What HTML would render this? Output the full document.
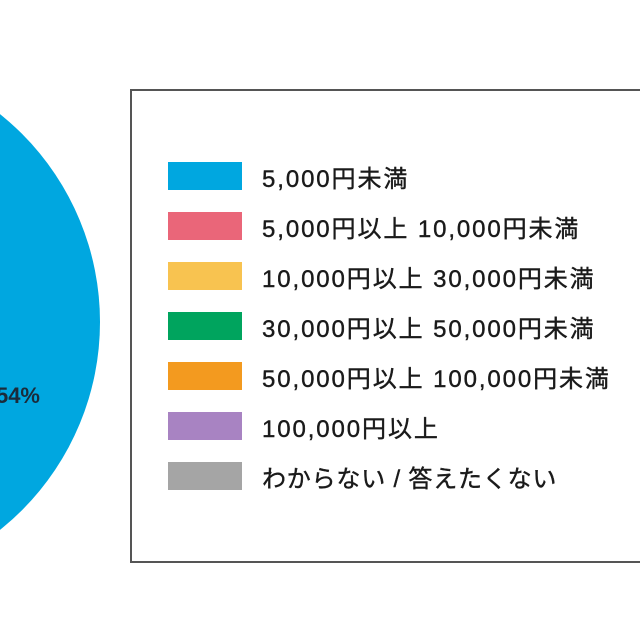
<!DOCTYPE html>
<html><head><meta charset="utf-8"><style>
body{margin:0;width:640px;height:640px;background:#fff;overflow:hidden;position:relative;font-family:"Liberation Sans","Noto Sans CJK JP",sans-serif}
.box{position:absolute;left:130px;top:89px;width:530px;height:470px;border:2px solid #555}
.row{position:absolute;left:168px;height:28px;display:flex;align-items:center}
.sw{width:74px;height:28px;margin-right:20px}
.t{font-size:24px;letter-spacing:1.9px;color:#1a1a1a;white-space:nowrap;-webkit-text-stroke:0.4px #1a1a1a}
.k{letter-spacing:0.8px}
</style></head><body>
<svg width="640" height="640" style="position:absolute;left:0;top:0">
<circle cx="-166" cy="322" r="266" fill="#00a7e0"/>
<text x="40" y="403" text-anchor="end" font-size="22" fill="#1b2b3a" font-weight="bold" font-family="Liberation Sans, sans-serif">54%</text>
</svg>
<div class="box"></div>
<div class="row" style="top:162px"><div class="sw" style="background:#00a7e0"></div><span class="t">5,000円未満</span></div>
<div class="row" style="top:212px"><div class="sw" style="background:#ea6679"></div><span class="t">5,000円以上 10,000円未満</span></div>
<div class="row" style="top:262px"><div class="sw" style="background:#f8c350"></div><span class="t">10,000円以上 30,000円未満</span></div>
<div class="row" style="top:312px"><div class="sw" style="background:#00a45e"></div><span class="t">30,000円以上 50,000円未満</span></div>
<div class="row" style="top:362px"><div class="sw" style="background:#f39a1f"></div><span class="t">50,000円以上 100,000円未満</span></div>
<div class="row" style="top:412px"><div class="sw" style="background:#a883c2"></div><span class="t">100,000円以上</span></div>
<div class="row" style="top:462px"><div class="sw" style="background:#a5a5a5"></div><span class="t k">わからない / 答えたくない</span></div>
</body></html>
